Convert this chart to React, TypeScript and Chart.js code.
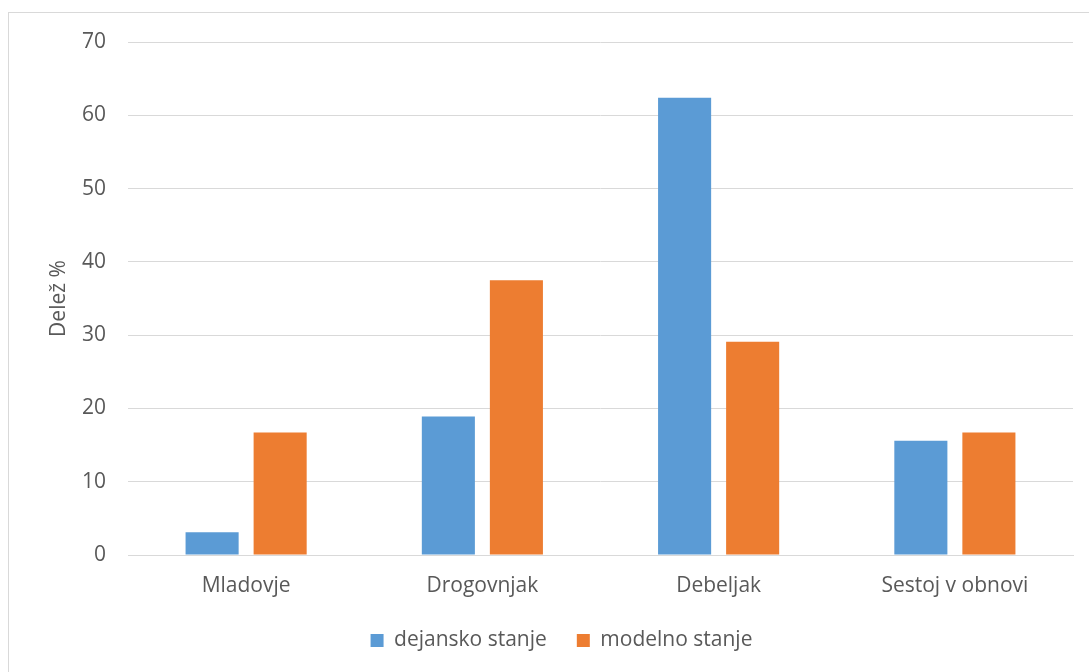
import React, { useEffect, useRef } from "react";
import { Chart, registerables } from "chart.js";

Chart.register(...registerables);

const categories = ["Mladovje", "Drogovnjak", "Debeljak", "Sestoj v obnovi"];
const dejanskoStanje = [3.1, 18.9, 62.4, 15.6];
const modelnoStanje = [16.7, 37.5, 29.1, 16.7];
const seriesNames = ["dejansko stanje", "modelno stanje"];
const yAxisTitle = "Delež %";

const FONT = "'Open Sans', sans-serif";
const TEXT = "#595959";
const GRID = "#d9d9d9";
const FS = 21;

export default function App() {
  const ref = useRef<HTMLCanvasElement | null>(null);
  useEffect(() => {
    if (!ref.current) return;
    const chart = new Chart(ref.current, {
      type: "bar",
      data: {
        labels: categories,
        datasets: [
          {
            label: seriesNames[0],
            data: dejanskoStanje,
            backgroundColor: "#5B9BD5",
            barPercentage: 0.78,
            categoryPercentage: 0.576,
          },
          {
            label: seriesNames[1],
            data: modelnoStanje,
            backgroundColor: "#ED7D31",
            barPercentage: 0.78,
            categoryPercentage: 0.576,
          },
        ],
      },
      options: {
        responsive: false,
        animation: false,
        layout: { padding: { left: 50, top: 42, right: 16, bottom: 11 } },
        plugins: {
          tooltip: { enabled: false },
          legend: {
            position: "bottom",
            labels: {
              boxWidth: 13,
              boxHeight: 13,
              padding: 30,
              color: TEXT,
              font: { family: FONT, size: FS },
            },
          },
        },
        scales: {
          x: {
            clip: false,
            grid: { display: false, drawTicks: false },
            border: { color: GRID, width: 1 },
            ticks: {
              color: TEXT,
              font: { family: FONT, size: FS },
              padding: 18,
            },
            afterFit: (s: any) => {
              s.height = 45;
            },
          },
          y: {
            min: 0,
            max: 70,
            ticks: {
              stepSize: 10,
              color: TEXT,
              font: { family: FONT, size: FS },
              padding: 22,
            },
            grid: { color: GRID, lineWidth: 1, drawTicks: false },
            border: { display: false },
            title: {
              display: true,
              text: yAxisTitle,
              color: TEXT,
              font: { family: FONT, size: FS },
              padding: { top: -4, bottom: 0 },
            },
            afterFit: (s: any) => {
              s.width = 78;
            },
          },
        },
      },
    });
    return () => chart.destroy();
  }, []);
  return (
    <div style={{ position: "absolute", left: 0, top: 0, width: 1089, height: 672, overflow: "hidden", background: "#fff" }}>
      <div
        style={{
          position: "absolute",
          left: 8,
          top: 12,
          width: 1100,
          height: 700,
          borderLeft: "1px solid #d9d9d9",
          borderTop: "1px solid #d9d9d9",
        }}
      />
      <canvas ref={ref} width={1089} height={672} style={{ position: "absolute", left: 0, top: 0 }} />
    </div>
  );
}
